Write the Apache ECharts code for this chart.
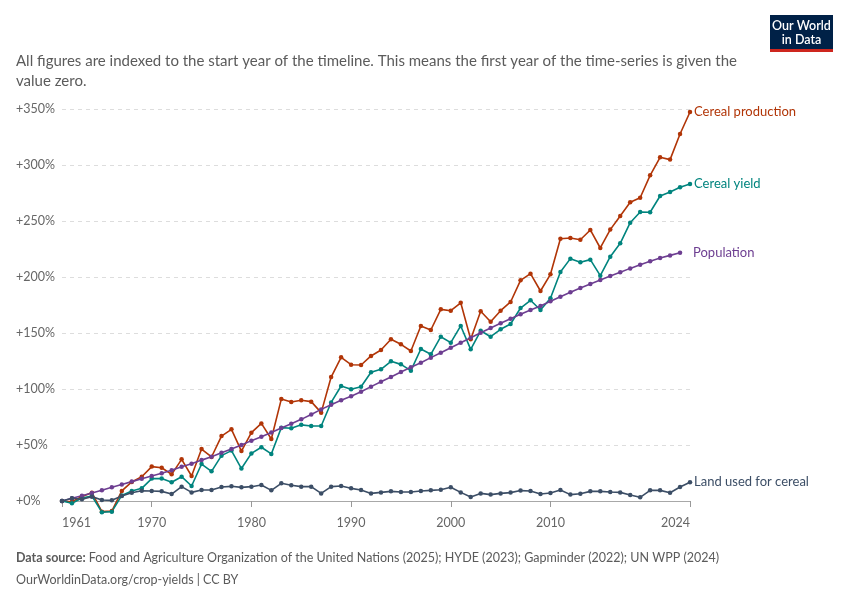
<!DOCTYPE html>
<html lang="en">
<head>
    <meta charset="UTF-8">
    <title>Crop yields</title>
    <script src="https://cdn.jsdelivr.net/npm/echarts@6/dist/echarts.min.js"></script>
    <style>
        body { margin: 0; background: #fff; }
    </style>
</head>
<body>
<div id="main" style="width: 850px;height:600px;"></div>

<script type="text/javascript">

    // years 1961..2024
    var firstYear = 1961;
    var tickYears = [1961, 1970, 1980, 1990, 2000, 2010, 2024];

    var cerealProduction = [0, -0.7, 4, 7.4, -9.5, -9, 9, 17, 21.7, 30.7,
        29.7, 23.8, 37.2, 22.3, 46.4, 39.3, 58, 64, 44.6, 61,
        69.3, 55.4, 91, 88.4, 89.9, 88.7, 78.9, 110.7, 128.3, 121.7,
        121.4, 129.5, 134.8, 144.4, 139.9, 133.9, 156.3, 152.7, 171.1, 169.9,
        177, 144.4, 169.4, 160.1, 169.9, 177.7, 197, 203, 187.5, 202.4,
        234.2, 234.8, 233.3, 242, 225.9, 242.3, 254.5, 266.7, 270.8, 290.8,
        306.9, 304.8, 327.7, 347.3];

    var cerealYield = [0, -2, 2.7, 4.5, -10, -9.5, 5, 9, 11.3, 20,
        20, 16.7, 21.7, 13.4, 33, 26.5, 40.5, 45, 29, 42.5,
        48, 42, 65.5, 65, 68, 67, 67, 88, 102.7, 99.7,
        102, 114.9, 117.6, 124.7, 122, 116.4, 135.7, 131, 146.7, 141.4,
        156.3, 135.4, 152, 146.7, 153.3, 158, 172.3, 179.2, 170.5, 181,
        204.5, 216.4, 213.1, 215.5, 201.2, 218.1, 230.1, 248.5, 258, 257.8,
        272.3, 275.9, 280.1, 283];

    // population ends in 2023
    var population = [0, 2.4, 4.6, 7.2, 9.6, 12.2, 14.8, 17.3, 19.9, 22.3,
        24.8, 27.5, 30.5, 33.3, 36.5, 39.6, 43, 46.4, 50, 53.9,
        57.4, 61.1, 65.1, 69, 72.9, 77.3, 81.8, 86, 89.9, 93.5,
        97.6, 102.1, 106.5, 110.7, 115.2, 119.4, 123.5, 128, 132.4, 136.9,
        141.3, 145.8, 150.3, 154.5, 158.7, 162.8, 166.7, 170.5, 174.1, 178.3,
        182.4, 186.3, 190.2, 193.8, 197.3, 200.9, 204.2, 207.7, 211, 214,
        216.9, 219.3, 221.7];

    var landUsed = [0, 2.4, 1.5, 3.9, 0.9, 0.6, 4.5, 7.4, 9.2, 8.9,
        8.6, 6.2, 12.8, 7.7, 9.8, 9.8, 12.5, 13.1, 12.2, 12.8,
        14.3, 9.5, 15.8, 14, 12.8, 12.8, 6.8, 12.8, 13.4, 11.3,
        9.8, 6.8, 7.7, 8.6, 8, 8, 8.9, 9.5, 10.1, 12.2,
        7.7, 3.6, 6.8, 5.7, 6.8, 7.5, 9.3, 8.9, 6.2, 7.1,
        9.8, 5.7, 6.5, 8.6, 8.6, 8, 7.7, 5.4, 3.3, 9.5,
        9.5, 7.4, 12.5, 16.7];

    function pairs(values) {
        var out = [];
        for (var i = 0; i < values.length; i++) {
            out.push([firstYear + i, values[i]]);
        }
        return out;
    }

    function makeSeries(name, values, color, labelDistance) {
        return {
            name: name,
            type: 'line',
            data: pairs(values),
            clip: false,
            symbol: 'circle',
            symbolSize: 4.5,
            color: color,
            lineStyle: { width: 1.6, color: color },
            itemStyle: { color: color },
            emphasis: { disabled: true },
            endLabel: {
                show: true,
                formatter: name,
                color: color,
                fontFamily: 'Lato',
                fontSize: 13,
                distance: labelDistance
            }
        };
    }

    var myChart = echarts.init(document.getElementById('main'));

    myChart.setOption({
        animation: false,
        textStyle: { fontFamily: 'Lato' },
        title: [{
            text: 'All figures are indexed to the start year of the timeline. This means the first year of the time-series is given the\nvalue zero.',
            left: 16,
            top: 51,
            padding: 0,
            textStyle: { fontSize: 15, fontWeight: 'normal', color: '#5b5b5b', lineHeight: 20, fontFamily: 'Lato' }
        }, {
            text: '{b|Data source:} Food and Agriculture Organization of the United Nations (2025); HYDE (2023); Gapminder (2022); UN WPP (2024)\nOurWorldinData.org/crop-yields | CC BY',
            left: 16,
            top: 547,
            padding: 0,
            textStyle: {
                fontSize: 12.5, fontWeight: 'normal', color: '#5b5b5b', lineHeight: 22, fontFamily: 'Lato',
                rich: { b: { fontWeight: 'bold', fontSize: 12.5, color: '#5b5b5b', fontFamily: 'Lato' } }
            }
        }],
        graphic: [
            { type: 'rect', x: 770, y: 15, shape: { width: 63, height: 35 }, style: { fill: '#002147' } },
            { type: 'rect', x: 770, y: 49, shape: { width: 63, height: 3 }, style: { fill: '#ce261e' } },
            {
                type: 'text', x: 801.5, y: 19,
                style: {
                    text: 'Our World\nin Data', fill: '#fff', font: '600 12.5px Lato',
                    align: 'center', verticalAlign: 'top', lineHeight: 14
                }
            }
        ],
        grid: { left: 62, right: 160, top: 109, bottom: 99 },
        xAxis: [{
            type: 'value', min: 1961, max: 2024,
            axisLine: { show: true, onZero: false, lineStyle: { color: '#a8a8a8' } },
            axisTick: { show: false },
            axisLabel: { show: false },
            splitLine: { show: false }
        }, {
            type: 'value', min: 1961, max: 2024, position: 'bottom', offset: 10,
            axisLine: { show: false },
            axisTick: { show: true, customValues: tickYears, length: 6, lineStyle: { color: '#999' } },
            axisLabel: {
                customValues: tickYears, color: '#666', fontSize: 12.5, margin: 5,
                formatter: function (v) { return String(v); },
                alignMinLabel: 'left', alignMaxLabel: 'right'
            },
            splitLine: { show: false }
        }],
        yAxis: {
            type: 'value', min: 0, max: 350, interval: 50,
            axisLine: { show: false },
            axisTick: { show: false },
            axisLabel: {
                formatter: function (v) { return '+' + v + '%'; },
                color: '#666', fontSize: 12.5, align: 'left', margin: 46
            },
            splitLine: { lineStyle: { color: '#dddddd', type: [4, 4] } }
        },
        series: [
            makeSeries('Cereal production', cerealProduction, '#b13507', 4),
            makeSeries('Cereal yield', cerealYield, '#00847e', 4),
            makeSeries('Population', population, '#6d3e91', 13),
            makeSeries('Land used for cereal', landUsed, '#3c4e66', 4)
        ]
    });

</script>
</body>
</html>
